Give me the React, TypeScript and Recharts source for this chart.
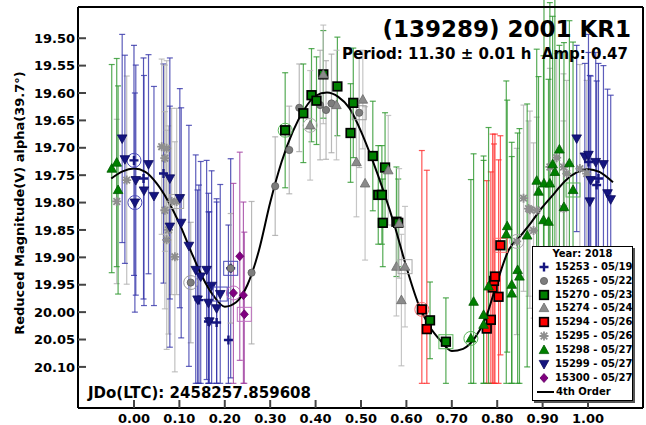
import React from "react";
import { ComposedChart, Scatter, Line, XAxis, YAxis, ErrorBar } from "recharts";

// phase, reduced magnitude, error
type Obs = [number, number, number];

const phaseTicks = [0, 0.1, 0.2, 0.3, 0.4, 0.5, 0.6, 0.7, 0.8, 0.9, 1.0];
const magTicks = [19.5, 19.55, 19.6, 19.65, 19.7, 19.75, 19.8, 19.85, 19.9, 19.95, 20.0, 20.05, 20.1];

const sessionIds = ["15253", "15265", "15270", "15274", "15294", "15295", "15298", "15299", "15300"];
const sessionDates = ["05/19", "05/22", "05/23", "05/24", "05/26", "05/26", "05/27", "05/27", "05/27"];

// first row of each session = circled point, last row = boxed point
const s15253: Obs[] = [
  [0.0, 19.723, 0.21], [0.021, 19.756, 0.22], [0.065, 19.747, 0.2], [0.143, 19.978, 0.21],
  [0.164, 20.017, 0.2], [0.182, 20.019, 0.22], [0.208, 20.051, 0.21], [1.001, 19.726, 0.2],
  [1.019, 19.768, 0.19], [1.023, 19.756, 0.21], [0.213, 19.92, 0.2],
];
const s15265: Obs[] = [
  [0.125, 19.946, 0.11], [0.213, 19.92, 0.1], [0.259, 19.928, 0.13], [0.311, 19.77, 0.09],
  [0.342, 19.704, 0.08], [0.364, 19.627, 0.08], [0.41, 19.622, 0.1], [0.423, 19.631, 0.09],
  [0.435, 19.619, 0.09], [0.496, 19.636, 0.1],
];
const s15270: Obs[] = [
  [0.333, 19.668, 0.105], [0.373, 19.637, 0.09], [0.391, 19.604, 0.085], [0.402, 19.614, 0.08],
  [0.417, 19.566, 0.08], [0.448, 19.588, 0.09], [0.477, 19.673, 0.09], [0.483, 19.618, 0.1],
  [0.526, 19.715, 0.1], [0.538, 19.786, 0.09], [0.546, 19.786, 0.09], [0.548, 19.837, 0.08],
  [0.553, 19.736, 0.1], [0.578, 19.835, 0.1], [0.582, 19.837, 0.08], [0.652, 20.015, 0.07],
  [0.687, 20.054, 0.08],
];
const s15274: Obs[] = [
  [0.388, 19.659, 0.1], [0.417, 19.566, 0.09], [0.446, 19.622, 0.1], [0.49, 19.726, 0.1],
  [0.504, 19.612, 0.09], [0.509, 19.765, 0.14], [0.56, 19.741, 0.1], [0.578, 19.917, 0.09],
  [0.584, 19.838, 0.1], [0.589, 19.978, 0.12], [0.597, 19.917, 0.11],
];
const s15294: Obs[] = [
  [0.634, 19.995, 0.29], [0.645, 20.031, 0.29], [0.777, 20.03, 0.27], [0.786, 20.014, 0.27],
  [0.79, 19.955, 0.28], [0.793, 19.943, 0.25], [0.795, 19.935, 0.26], [0.803, 19.972, 0.25],
  [0.807, 19.878, 0.2],
];
const s15295: Obs[] = [
  [0.843, 19.871, 0.17], [0.858, 19.792, 0.17], [0.869, 19.811, 0.16], [0.872, 19.813, 0.18],
  [0.88, 19.851, 0.16], [0.887, 19.814, 0.17], [0.916, 19.735, 0.18], [0.931, 19.718, 0.19],
  [0.946, 19.735, 0.17], [0.946, 19.811, 0.16], [0.953, 19.747, 0.17], [0.982, 19.738, 0.19],
  [0.997, 19.747, 0.17], [-0.038, 19.798, 0.15], [-0.016, 19.759, 0.19], [0.061, 19.698, 0.16],
  [0.068, 19.719, 0.17], [0.072, 19.701, 0.16], [0.068, 19.814, 0.18], [0.076, 19.85, 0.19],
  [0.072, 19.868, 0.2], [0.083, 19.798, 0.17], [0.09, 19.899, 0.21], [0.094, 19.798, 0.17],
];
const s15298: Obs[] = [
  [0.742, 20.048, 0.29], [0.748, 19.981, 0.27], [0.77, 20.005, 0.29], [0.77, 20.023, 0.3],
  [0.781, 19.953, 0.29], [0.82, 19.858, 0.28], [0.822, 19.843, 0.23], [0.832, 19.95, 0.26],
  [0.832, 19.966, 0.25], [0.845, 19.923, 0.25], [0.849, 19.935, 0.27], [0.866, 19.86, 0.24],
  [0.887, 19.76, 0.24], [0.891, 19.78, 0.21], [0.902, 19.832, 0.3], [0.903, 19.765, 0.34],
  [0.913, 19.835, 0.26], [0.916, 19.765, 0.33], [0.922, 19.73, 0.27], [0.927, 19.744, 0.32],
  [0.937, 19.703, 0.19], [0.947, 19.808, 0.3], [0.959, 19.728, 0.26], [-0.049, 19.738, 0.19],
  [-0.038, 19.727, 0.19], [-0.035, 19.777, 0.19], [0.967, 19.777, 0.27],
];
const s15299: Obs[] = [
  [0.002, 19.8, 0.2], [-0.026, 19.683, 0.19], [-0.02, 19.721, 0.19], [0.004, 19.759, 0.21],
  [0.022, 19.778, 0.21], [0.032, 19.73, 0.2], [0.044, 19.788, 0.2], [0.079, 19.756, 0.22],
  [0.079, 19.844, 0.22], [0.101, 19.792, 0.2], [0.104, 19.837, 0.21], [0.121, 19.879, 0.22],
  [0.136, 19.923, 0.21], [0.14, 19.977, 0.2], [0.147, 19.935, 0.21], [0.16, 19.923, 0.2],
  [0.164, 19.983, 0.2], [0.166, 20.017, 0.2], [0.171, 19.952, 0.21], [0.182, 19.993, 0.2],
  [0.975, 19.683, 0.17], [0.993, 19.716, 0.17], [1.001, 19.713, 0.22], [1.004, 19.798, 0.23],
  [1.006, 19.759, 0.19], [1.017, 19.726, 0.2], [1.034, 19.73, 0.18], [1.043, 19.783, 0.19],
  [1.05, 19.794, 0.19], [0.19, 19.967, 0.2],
];
const s15300: Obs[] = [
  [0.219, 19.965, 0.2], [0.233, 19.898, 0.19], [0.241, 19.969, 0.17], [0.243, 20.004, 0.15],
];

// 4th order Fourier fit
const fitPhase = [
  -0.05, -0.025, 0.0, 0.025, 0.05, 0.075, 0.1, 0.125, 0.15, 0.175, 0.2, 0.225, 0.25, 0.275, 0.3,
  0.325, 0.35, 0.375, 0.4, 0.425, 0.45, 0.475, 0.5, 0.525, 0.55, 0.575, 0.6, 0.625, 0.65, 0.675,
  0.7, 0.725, 0.75, 0.775, 0.8, 0.825, 0.85, 0.875, 0.9, 0.925, 0.95, 0.975, 1.0, 1.025, 1.055,
];
const fitMag = [
  19.756, 19.743, 19.738, 19.744, 19.765, 19.797, 19.838, 19.888, 19.935, 19.97, 19.99, 19.982,
  19.95, 19.888, 19.8, 19.726, 19.67, 19.63, 19.605, 19.599, 19.607, 19.628, 19.67, 19.722, 19.78,
  19.845, 19.918, 19.982, 20.025, 20.052, 20.071, 20.067, 20.048, 20.01, 19.945, 19.887, 19.862,
  19.836, 19.808, 19.784, 19.76, 19.745, 19.739, 19.744, 19.763,
];

const BAR_LIMIT = 20.13; // error bars stop here on the faint side

const sessionRows = [s15253, s15265, s15270, s15274, s15294, s15295, s15298, s15299, s15300];

const looks = [
  { kind: "plus", fill: "#15157f", stroke: "#15157f", bar: "#2c2ca4", ring: "#4a4ab8" },
  { kind: "circle", fill: "#7d7d7d", stroke: "#5c5c5c", bar: "#a8a8a8", ring: "#9c9c9c" },
  { kind: "square", fill: "#008000", stroke: "#000", bar: "#2a962a", ring: "#5cb85c" },
  { kind: "tri", fill: "#8a8a8a", stroke: "#6a6a6a", bar: "#b8b8b8", ring: "#a8a8a8" },
  { kind: "square", fill: "#ff0000", stroke: "#000", bar: "#ff2a2a", ring: "#ff7070" },
  { kind: "star", fill: "#8e8e8e", stroke: "#8e8e8e", bar: "#b2b2b2", ring: "#a8a8a8" },
  { kind: "tri", fill: "#008000", stroke: "#005c00", bar: "#2a962a", ring: "#5cb85c" },
  { kind: "tridown", fill: "#15157f", stroke: "#0b0b60", bar: "#3434aa", ring: "#4a4ab8" },
  { kind: "diamond", fill: "#800080", stroke: "#600060", bar: "#a040a0", ring: "#c070c0" },
];

const series = sessionRows.map((rows) =>
  rows.map(([phase, mag, err], i) => ({
    phase,
    mag,
    bar: [err, Math.min(err, BAR_LIMIT - mag)],
    ring: i === 0 ? "first" : i === rows.length - 1 ? "last" : "",
  }))
);

const fitData = fitPhase.map((phase, i) => ({ phase, mag: fitMag[i] }));

const FONT = "'DejaVu Sans', Verdana, sans-serif";

function Mark({ kind, x, y, fill, stroke }: { kind: string; x: number; y: number; fill: string; stroke: string }) {
  switch (kind) {
    case "plus":
      return <path d={`M${x - 4.5},${y}h9M${x},${y - 4.5}v9`} stroke={fill} strokeWidth={2.4} fill="none" />;
    case "circle":
      return <circle cx={x} cy={y} r={3.6} fill={fill} stroke={stroke} strokeWidth={0.8} />;
    case "square":
      return <rect x={x - 4.3} y={y - 4.3} width={8.6} height={8.6} fill={fill} stroke={stroke} strokeWidth={1.7} />;
    case "tri":
      return <path d={`M${x},${y - 5}L${x + 4.8},${y + 3.6}L${x - 4.8},${y + 3.6}Z`} fill={fill} stroke={stroke} strokeWidth={0.8} />;
    case "tridown":
      return <path d={`M${x},${y + 5}L${x + 4.8},${y - 3.6}L${x - 4.8},${y - 3.6}Z`} fill={fill} stroke={stroke} strokeWidth={0.8} />;
    case "star":
      return (
        <path
          d={`M${x - 4.5},${y}h9M${x},${y - 4.5}v9M${x - 3.3},${y - 3.3}l6.6,6.6M${x - 3.3},${y + 3.3}l6.6,-6.6`}
          stroke={fill}
          strokeWidth={1.8}
          fill="none"
        />
      );
    default:
      return <path d={`M${x},${y - 4.5}L${x + 4},${y}L${x},${y + 4.5}L${x - 4},${y}Z`} fill={fill} stroke={stroke} strokeWidth={0.8} />;
  }
}

function makeShape(look: (typeof looks)[number]) {
  return (props: any) => {
    const { cx, cy, payload } = props;
    if (cx == null || cy == null) return <g />;
    return (
      <g>
        {payload.ring === "first" && <circle cx={cx} cy={cy} r={7} fill="none" stroke={look.ring} strokeWidth={1} />}
        {payload.ring === "last" && (
          <rect x={cx - 7} y={cy - 7} width={14} height={14} fill="none" stroke={look.ring} strokeWidth={1} />
        )}
        <Mark kind={look.kind} x={cx} y={cy} fill={look.fill} stroke={look.stroke} />
      </g>
    );
  };
}

const tickStyle = { fontFamily: FONT, fontWeight: "bold", fontSize: 13, fill: "#000" };
const frame = { stroke: "#000", strokeWidth: 2 };
const tickLn = { stroke: "#444", strokeWidth: 2 };

export default function App() {
  return (
    <div style={{ position: "absolute", left: 0, top: 0, width: 646, height: 425, background: "#fff", fontFamily: FONT }}>
      <ComposedChart width={646} height={425} margin={{ top: 0, right: 0, bottom: 0, left: 0 }}>
        <XAxis
          type="number"
          dataKey="phase"
          domain={[-0.1233, 1.1211]}
          allowDataOverflow
          ticks={phaseTicks}
          tickFormatter={(v: number) => v.toFixed(2)}
          height={17}
          tickSize={-8}
          tickMargin={14}
          tick={tickStyle}
          axisLine={frame}
          tickLine={tickLn}
          interval={0}
        />
        <XAxis
          xAxisId="top"
          orientation="top"
          type="number"
          domain={[-0.1233, 1.1211]}
          allowDataOverflow
          ticks={phaseTicks}
          height={7}
          tickSize={-8}
          tick={false}
          axisLine={frame}
          tickLine={tickLn}
          interval={0}
        />
        <YAxis
          type="number"
          dataKey="mag"
          reversed
          domain={[19.443, 20.175]}
          allowDataOverflow
          ticks={magTicks}
          tickFormatter={(v: number) => v.toFixed(2)}
          width={78}
          tickSize={-8}
          tickMargin={11}
          tick={tickStyle}
          axisLine={frame}
          tickLine={tickLn}
          interval={0}
        />
        <YAxis
          yAxisId="right"
          orientation="right"
          type="number"
          reversed
          domain={[19.443, 20.175]}
          allowDataOverflow
          ticks={magTicks}
          width={3}
          tickSize={-8}
          tick={false}
          axisLine={frame}
          tickLine={tickLn}
          interval={0}
        />
        {series.map((data, i) => (
          <Scatter key={`bar-${i}`} data={data} dataKey="mag" shape={() => <g />} isAnimationActive={false}>
            <ErrorBar
              dataKey="bar"
              direction="y"
              width={3}
              stroke={looks[i].bar}
              strokeWidth={1.2}
              strokeOpacity={0.8}
              isAnimationActive={false}
            />
          </Scatter>
        ))}
        <Line
          data={fitData}
          dataKey="mag"
          type="monotone"
          stroke="#000"
          strokeWidth={2}
          dot={false}
          isAnimationActive={false}
        />
        {series.map((data, i) => (
          <Scatter key={`pt-${i}`} data={data} dataKey="mag" shape={makeShape(looks[i])} isAnimationActive={false} />
        ))}
      </ComposedChart>

      <div
        style={{
          position: "absolute",
          right: 15,
          top: 17.5,
          fontSize: 23,
          fontWeight: "bold",
          lineHeight: 1,
          whiteSpace: "nowrap",
        }}
      >
        (139289) 2001 KR1
      </div>
      <div
        style={{
          position: "absolute",
          right: 18,
          top: 46.5,
          fontSize: 15,
          fontWeight: "bold",
          lineHeight: 1,
          whiteSpace: "nowrap",
        }}
      >
        Period: 11.30 ± 0.01 h&nbsp;&nbsp;Amp: 0.47
      </div>
      <div
        style={{
          position: "absolute",
          left: 88,
          top: 385.5,
          fontSize: 15,
          fontWeight: "bold",
          lineHeight: 1,
          whiteSpace: "nowrap",
        }}
      >
        JDo(LTC): 2458257.859608
      </div>
      <div
        style={{
          position: "absolute",
          left: 19,
          top: 203,
          transform: "translate(-50%, -50%) rotate(-90deg)",
          fontSize: 13,
          fontWeight: "bold",
          lineHeight: 1,
          whiteSpace: "nowrap",
        }}
      >
        Reduced Magnitude(V) alpha(39.7°)
      </div>

      <div
        style={{
          position: "absolute",
          left: 532,
          top: 246,
          width: 99,
          height: 153,
          border: "1px solid #000",
          boxShadow: "2px 2px 0 #555",
          background: "#fff",
          fontSize: 10,
          fontWeight: "bold",
        }}
      >
        <div style={{ position: "absolute", left: 0, top: 0, width: "100%", textAlign: "center", lineHeight: "13px" }}>
          Year: 2018
        </div>
        {sessionIds.map((id, i) => (
          <div key={id} style={{ position: "absolute", left: 0, top: 12.7 + i * 13.9, height: 14, width: "100%" }}>
            <svg width={22} height={14} style={{ position: "absolute", left: 0, top: 0 }}>
              <Mark kind={looks[i].kind} x={11} y={7} fill={looks[i].fill} stroke={looks[i].stroke} />
            </svg>
            <span style={{ position: "absolute", left: 22, top: 0, lineHeight: "14px", whiteSpace: "nowrap" }}>
              {id} - {sessionDates[i]}
            </span>
          </div>
        ))}
        <div style={{ position: "absolute", left: 0, top: 12.7 + 9 * 13.9, height: 14, width: "100%" }}>
          <svg width={22} height={14} style={{ position: "absolute", left: 0, top: 0 }}>
            <line x1={4} y1={7} x2={21} y2={7} stroke="#000" strokeWidth={2} />
          </svg>
          <span style={{ position: "absolute", left: 23, top: 0, lineHeight: "14px", whiteSpace: "nowrap" }}>
            4th Order
          </span>
        </div>
      </div>
    </div>
  );
}
